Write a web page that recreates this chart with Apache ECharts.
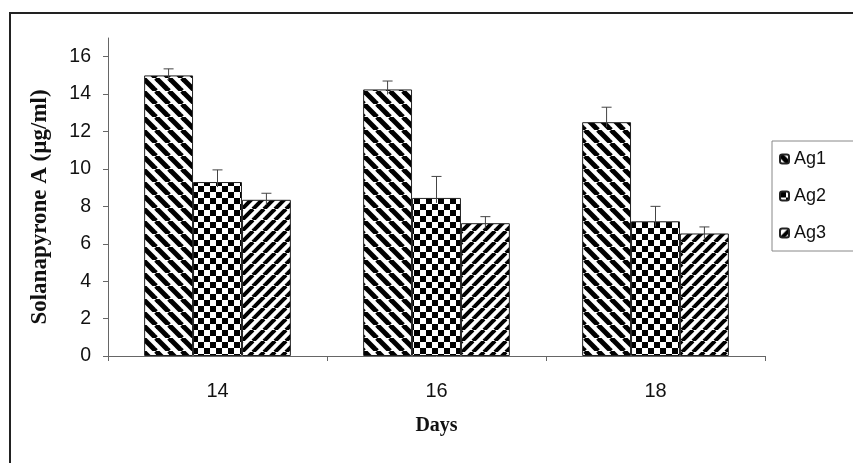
<!DOCTYPE html>
<html>
<head>
<meta charset="utf-8">
<script src="https://cdn.jsdelivr.net/npm/echarts@6/dist/echarts.min.js"></script>
<style>html,body{margin:0;padding:0;background:#fff;}#c{width:853px;height:463px;}</style>
</head>
<body>
<div id="c"></div>
<script>
var categories = ['14', '16', '18'];
var seriesNames = ['Ag1', 'Ag2', 'Ag3'];
var ag1 = [15.0, 14.25, 12.5];
var ag2 = [9.3, 8.45, 7.2];
var ag3 = [8.35, 7.1, 6.55];
var ag1Err = [0.35, 0.45, 0.8];
var ag2Err = [0.65, 1.15, 0.8];
var ag3Err = [0.35, 0.35, 0.35];
var yTicks = [0, 2, 4, 6, 8, 10, 12, 14, 16];

function stripes(dir, s, w) {
  var c = document.createElement('canvas');
  c.width = s; c.height = s;
  var ctx = c.getContext('2d');
  ctx.fillStyle = '#fff'; ctx.fillRect(0, 0, s, s);
  ctx.strokeStyle = '#000'; ctx.lineWidth = w;
  for (var k = -1; k <= 1; k++) {
    ctx.beginPath();
    if (dir === 'back') { ctx.moveTo(k * s, 0); ctx.lineTo(k * s + s, s); }
    else { ctx.moveTo(k * s, s); ctx.lineTo(k * s + s, 0); }
    ctx.stroke();
  }
  return c;
}
function checker(q) {
  var c = document.createElement('canvas');
  c.width = 2 * q; c.height = 2 * q;
  var ctx = c.getContext('2d');
  ctx.fillStyle = '#fff'; ctx.fillRect(0, 0, 2 * q, 2 * q);
  ctx.fillStyle = '#000';
  ctx.fillRect(0, 0, q, q); ctx.fillRect(q, q, q, q);
  return c;
}
var patterns = [
  { image: stripes('back', 13, 5), repeat: 'repeat' },
  { image: checker(6), repeat: 'repeat' },
  { image: stripes('fwd', 11, 4), repeat: 'repeat' }
];
var values = [ag1, ag2, ag3];
var errs = [ag1Err, ag2Err, ag3Err];
var GAP = 0.33;

var chart = echarts.init(document.getElementById('c'));
var series = [];
seriesNames.forEach(function (name, si) {
  series.push({
    name: name, type: 'bar', data: values[si],
    barGap: '0%', barCategoryGap: (GAP * 100) + '%',
    itemStyle: { color: patterns[si], borderColor: '#222', borderWidth: 1 },
    emphasis: { disabled: true }
  });
});
seriesNames.forEach(function (name, si) {
  series.push({
    type: 'custom', name: name + ' err', silent: true, z: 5,
    data: values[si].map(function (v, i) { return [i, v, errs[si][i]]; }),
    renderItem: function (params, api) {
      var idx = api.value(0), v = api.value(1), e = api.value(2);
      var catW = api.size([1, 0])[0];
      var bw = catW * (1 - GAP) / 3;
      var off = (si - 1) * bw;
      var p0 = api.coord([idx, v]);
      var p1 = api.coord([idx, v + e]);
      var x = p0[0] + off;
      var st = { stroke: '#444', lineWidth: 1 };
      return { type: 'group', children: [
        { type: 'line', shape: { x1: x, y1: p0[1] + 5, x2: x, y2: p1[1] }, style: st },
        { type: 'line', shape: { x1: x - 5, y1: p1[1], x2: x + 5, y2: p1[1] }, style: st }
      ]};
    }
  });
});

chart.setOption({
  animation: false,
  backgroundColor: '#fff',
  graphic: [{ type: 'rect', shape: { x: 10, y: 13, width: 900, height: 500 }, style: { fill: 'none', stroke: '#222', lineWidth: 2 }, z: -1 }],
  grid: { left: 108, right: 88, top: 38, bottom: 107 },
  legend: {
    orient: 'vertical', left: 772, top: 141,
    data: seriesNames,
    itemWidth: 9, itemHeight: 9, itemGap: 19,
    padding: [9, 40, 9, 7],
    borderColor: '#888', borderWidth: 1,
    textStyle: { fontFamily: 'Liberation Sans', fontSize: 18, color: '#111' }
  },
  xAxis: {
    type: 'category', data: categories,
    axisLine: { lineStyle: { color: '#666', width: 1 } },
    axisTick: { show: true, length: 5, lineStyle: { color: '#666' } },
    axisLabel: { fontFamily: 'Liberation Sans', fontSize: 20, color: '#111', margin: 25 },
    name: 'Days', nameLocation: 'middle', nameGap: 60,
    nameTextStyle: { fontFamily: 'Liberation Serif', fontWeight: 'bold', fontSize: 20, color: '#111' }
  },
  yAxis: {
    type: 'value', min: 0, max: 17,
    axisLine: { show: true, lineStyle: { color: '#666', width: 1 } },
    axisTick: { show: true, length: 5, lineStyle: { color: '#666' }, customValues: yTicks },
    axisLabel: { fontFamily: 'Liberation Sans', fontSize: 19.5, color: '#111', margin: 17, customValues: yTicks },
    splitLine: { show: false },
    name: 'Solanapyrone A (µg/ml)', nameLocation: 'middle', nameGap: 56, nameRotate: 90,
    nameTextStyle: { fontFamily: 'Liberation Serif', fontWeight: 'bold', fontSize: 23, color: '#111', padding: [0, 20, 0, 0] }
  },
  series: series
});
</script>
</body>
</html>
